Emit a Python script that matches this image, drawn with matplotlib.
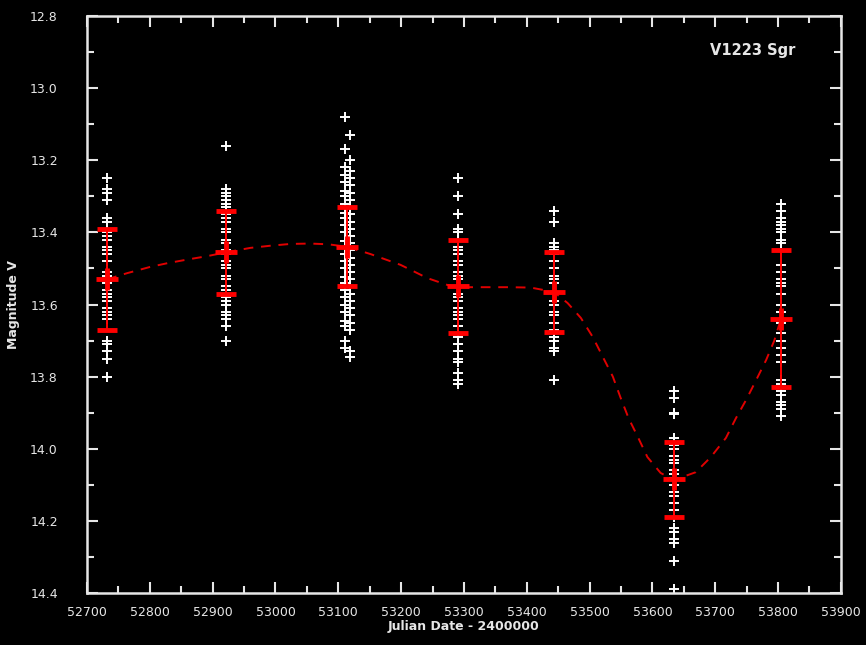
import matplotlib
matplotlib.use("Agg")
import matplotlib.pyplot as plt
from matplotlib.ticker import MultipleLocator

# individual observations (JD - 2400000, magnitude V)
jd_1 = 52732
mag_1 = [13.25, 13.28, 13.29, 13.31, 13.36, 13.37, 13.40, 13.41, 13.42, 13.44,
         13.45, 13.46, 13.48, 13.51, 13.52, 13.53, 13.54, 13.56, 13.57, 13.58,
         13.59, 13.61, 13.62, 13.63, 13.64, 13.70, 13.71, 13.73, 13.75, 13.80]
jd_2 = 52922
mag_2 = [13.16, 13.28, 13.29, 13.30, 13.31, 13.32, 13.33, 13.35, 13.36, 13.37,
         13.39, 13.40, 13.42, 13.43, 13.45, 13.46, 13.48, 13.49, 13.50, 13.52,
         13.53, 13.55, 13.56, 13.58, 13.59, 13.60, 13.62, 13.63, 13.64, 13.66, 13.70]
jd_3a = 53111
mag_3a = [13.08, 13.17, 13.22, 13.24, 13.26, 13.285, 13.30, 13.32, 13.345, 13.36,
          13.38, 13.40, 13.425, 13.44, 13.46, 13.48, 13.50, 13.525, 13.54, 13.56,
          13.58, 13.60, 13.62, 13.645, 13.66, 13.70, 13.72]
jd_3b = 53119
mag_3b = [13.13, 13.20, 13.23, 13.25, 13.27, 13.29, 13.31, 13.33, 13.35, 13.37,
          13.39, 13.41, 13.43, 13.45, 13.47, 13.49, 13.51, 13.53, 13.55, 13.57,
          13.59, 13.61, 13.63, 13.65, 13.67, 13.73, 13.745]
jd_4 = 53290
mag_4 = [13.25, 13.30, 13.35, 13.39, 13.40, 13.42, 13.44, 13.45, 13.46, 13.48,
         13.49, 13.51, 13.52, 13.53, 13.57, 13.58, 13.59, 13.61, 13.62, 13.63,
         13.64, 13.66, 13.69, 13.71, 13.73, 13.75, 13.76, 13.79, 13.81, 13.82]
jd_5 = 53443
mag_5 = [13.34, 13.37, 13.43, 13.44, 13.45, 13.46, 13.48, 13.50, 13.52, 13.53,
         13.54, 13.59, 13.60, 13.62, 13.63, 13.65, 13.67, 13.68, 13.69, 13.70,
         13.72, 13.73, 13.81]
jd_6 = 53634
mag_6 = [13.84, 13.86, 13.90, 13.905, 13.97, 13.99, 14.00, 14.02, 14.03, 14.04,
         14.06, 14.07, 14.08, 14.10, 14.12, 14.13, 14.15, 14.17, 14.19, 14.22,
         14.23, 14.25, 14.26, 14.31, 14.39]
jd_7 = 53804
mag_7 = [13.32, 13.34, 13.36, 13.37, 13.38, 13.39, 13.40, 13.42, 13.43, 13.49,
         13.51, 13.53, 13.54, 13.55, 13.57, 13.60, 13.62, 13.65, 13.68, 13.70,
         13.72, 13.74, 13.76, 13.81, 13.82, 13.84, 13.85, 13.87, 13.88, 13.89, 13.91]

# seasonal means and errors
mean_jd = [52732, 52922, 53114, 53290, 53443, 53634, 53804]
mean_mag = [13.53, 13.455, 13.44, 13.55, 13.565, 14.085, 13.64]
mean_err = [0.14, 0.115, 0.11, 0.13, 0.11, 0.105, 0.19]

# smooth trend curve
curve_jd = [52732, 52764, 52800, 52829, 52864, 52891, 52922, 52960, 52992, 53024,
            53055, 53084, 53114, 53151, 53199, 53242, 53274, 53290, 53337, 53369,
            53406, 53443, 53465, 53486, 53505, 53521, 53537, 53549, 53562, 53577,
            53592, 53613, 53634, 53669, 53693, 53717, 53733, 53749, 53765, 53781,
            53794, 53804]
curve_mag = [13.53, 13.513, 13.496, 13.485, 13.474, 13.466, 13.455, 13.443, 13.437, 13.432,
             13.431, 13.433, 13.44, 13.46, 13.49, 13.527, 13.546, 13.552, 13.552, 13.552,
             13.553, 13.565, 13.596, 13.637, 13.69, 13.745, 13.80, 13.857, 13.915, 13.968,
             14.023, 14.067, 14.087, 14.065, 14.023, 13.97, 13.915, 13.865, 13.81, 13.754,
             13.70, 13.643]

fg = "#e6e6e6"
fig = plt.figure(figsize=(8.66, 6.45), dpi=100, facecolor="black")
ax = fig.add_axes([0.1005, 0.0806, 0.8705, 0.8946], facecolor="black")

obs = [(jd_1, mag_1), (jd_2, mag_2), (jd_3a, mag_3a), (jd_3b, mag_3b), (jd_4, mag_4),
       (jd_5, mag_5), (jd_6, mag_6), (jd_7, mag_7)]
for jd, mags in obs:
    ax.plot([jd] * len(mags), mags, "+", color="white", markersize=6.5, mew=1.4, zorder=2)

ax.plot(curve_jd, curve_mag, color="#e00000", lw=1.4, linestyle=(0, (5, 4)), zorder=3)

ax.errorbar(mean_jd, mean_mag, yerr=mean_err, fmt="+", color="#ff0000", ecolor="#ff0000",
            markersize=16, mew=3.5, elinewidth=1.4, capsize=7, capthick=1.1, zorder=4)

ax.set_xlim(52700, 53900)
ax.set_ylim(14.4, 12.8)
ax.xaxis.set_major_locator(MultipleLocator(100))
ax.xaxis.set_minor_locator(MultipleLocator(50))
ax.yaxis.set_major_locator(MultipleLocator(0.2))
ax.yaxis.set_minor_locator(MultipleLocator(0.1))
ax.yaxis.set_major_formatter(plt.FormatStrFormatter("%.1f"))
ax.tick_params(which="both", direction="in", top=True, right=True, colors=fg,
               labelsize=9, width=1.5)
ax.tick_params(which="major", length=8)
ax.tick_params(which="minor", length=5)
ax.tick_params(axis="y", pad=21)
ax.tick_params(axis="x", pad=9)
for s in ax.spines.values():
    s.set_color(fg)
    s.set_linewidth(1.8)

ax.set_xlabel("Julian Date - 2400000", color=fg, fontsize=9, fontweight="bold", labelpad=1)
ax.set_ylabel("Magnitude V", color=fg, fontsize=9, fontweight="bold", labelpad=7)
ax.text(0.94, 0.94, "V1223 Sgr", transform=ax.transAxes, color=fg, fontsize=10.5,
        fontweight="bold", ha="right", va="center")

fig.savefig("out.png", dpi=100, facecolor="black")
